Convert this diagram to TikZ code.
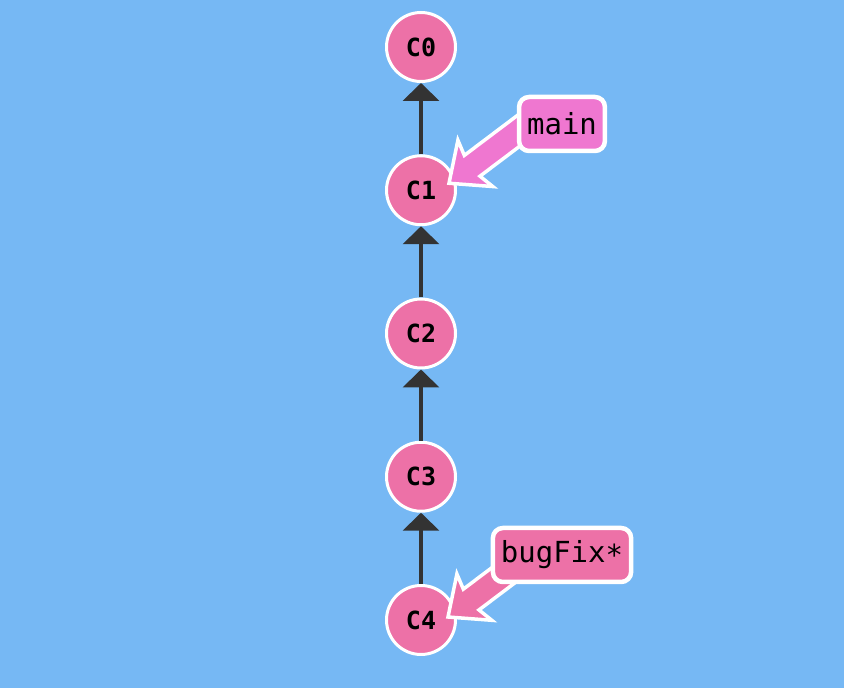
\documentclass[tikz,border=0pt]{standalone}
\usepackage{fontspec}
\setmonofont{DejaVu Sans Mono}
\usetikzlibrary{calc, arrows.meta}
\definecolor{bgblue}{RGB}{118,184,244}
\definecolor{commitpink}{RGB}{237,113,167}
\definecolor{mainpink}{RGB}{239,119,208}
\definecolor{linkgray}{RGB}{51,51,51}

\begin{document}
\begin{tikzpicture}[x=1pt, y=1pt,
        commit/.style={circle, draw=white, line width=3pt, fill=commitpink,
            minimum size=69pt, inner sep=0pt, font=\ttfamily\bfseries\fontsize{25}{25}\selectfont},
        branch/.style={rounded corners=10pt, draw=white, line width=4.5pt,
            minimum height=54pt, inner xsep=8pt, font=\ttfamily\fontsize{29}{29}\selectfont},
        parent/.style={draw=linkgray, line width=4pt, -{Triangle[length=18pt, width=36pt]}},
        ptr/.style={draw=white, line width=3.5pt, line join=miter}
    ]
        \fill[bgblue] (0,0) rectangle (844,688);
        \useasboundingbox (0,0) rectangle (844,688);

        \node[commit] (C0) at (421,641) {C0};
        \node[commit] (C1) at (421,497.75) {C1};
        \node[commit] (C2) at (421,354.5) {C2};
        \node[commit] (C3) at (421,211.25) {C3};
        \node[commit] (C4) at (421,68) {C4};

        \draw[parent] (C1) -- (C0);
        \draw[parent] (C2) -- (C1);
        \draw[parent] (C3) -- (C2);
        \draw[parent] (C4) -- (C3);

        \coordinate (mainTip) at ($(C1)+(28,7)$);
        \coordinate (bugTip) at ($(C4)+(27,3)$);

        \begin{scope}[shift={(mainTip)}, rotate=37]
            \draw[ptr, fill=mainpink]
                (0,0) -- (33,29) -- (29,13) -- (115,13) -- (115,-13)
                -- (29,-13) -- (33,-29) -- cycle;
        \end{scope}
        \begin{scope}[shift={(bugTip)}, rotate=37]
            \draw[ptr, fill=commitpink]
                (0,0) -- (33,29) -- (29,13) -- (115,13) -- (115,-13)
                -- (29,-13) -- (33,-29) -- cycle;
        \end{scope}

        \node[branch, fill=mainpink] (main) at (562,564) {main};
        \node[branch, fill=commitpink] (bugFix) at (562,133) {bugFix\raisebox{-3pt}{*}};
\end{tikzpicture}
\end{document}
